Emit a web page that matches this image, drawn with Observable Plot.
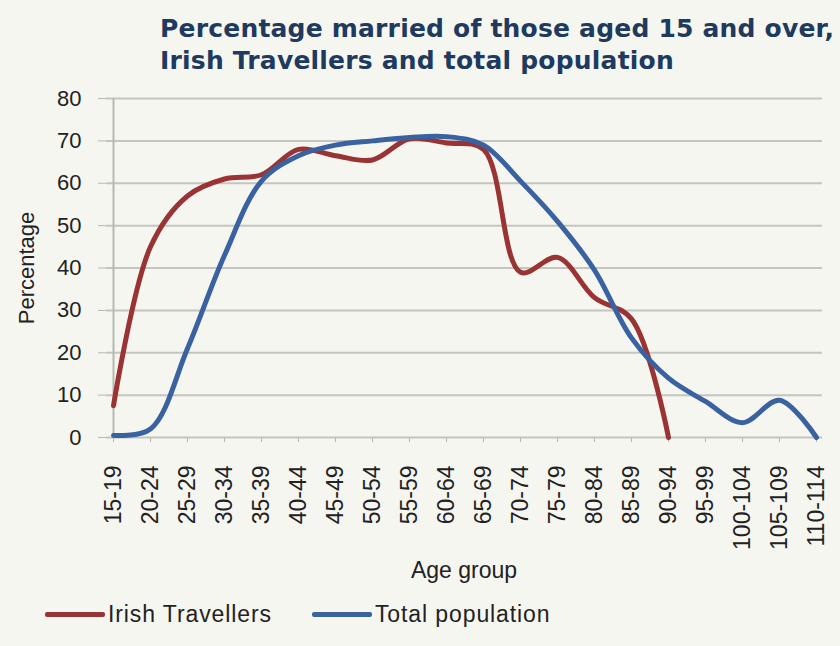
<!DOCTYPE html>
<html>
<head>
<meta charset="utf-8">
<script src="https://cdn.jsdelivr.net/npm/d3@7"></script>
<script src="https://cdn.jsdelivr.net/npm/@observablehq/plot@0.6"></script>
<style>
  html, body { margin: 0; padding: 0; background: #f6f6f1; }
  #wrap { position: relative; width: 840px; height: 646px; background: #f6f6f1; overflow: hidden; }
  #title { position: absolute; left: 160px; top: 13px; font-family: "DejaVu Sans", sans-serif; font-weight: 700; font-size: 25px; line-height: 32px; color: #1f3a5f; white-space: nowrap; letter-spacing: 0.2px; }
  #chart { position: absolute; left: 0; top: 80px; }
  #legend { position: absolute; left: 45px; top: 601px; font-family: "Liberation Sans", Arial, sans-serif; font-size: 23px; letter-spacing: 0.9px; color: #222; display: flex; align-items: center; }
  .item { display: flex; align-items: center; margin-right: 40px; }
  .sw { width: 60px; height: 5px; margin-right: 3px; border-radius: 2px; }
</style>
</head>
<body>
<div id="wrap">
  <div id="title">Percentage married of those aged 15 and over,<br>Irish Travellers and total population</div>
  <div id="chart"></div>
  <div id="legend"></div>
</div>
<script>
const ageGroups = ["15-19","20-24","25-29","30-34","35-39","40-44","45-49","50-54","55-59","60-64","65-69","70-74","75-79","80-84","85-89","90-94","95-99","100-104","105-109","110-114"];
const travellers = [7.5, 45, 57, 61, 62, 68, 66.5, 65.5, 70.5, 69.5, 68, 39, 42.5, 33, 28, 0];
const totalPop = [0.5, 2, 21, 43, 60.5, 66.5, 69, 70, 70.8, 71, 69, 60.5, 51, 39.5, 23.5, 14, 8.5, 3.5, 8.8, 0];
const yTicks = [0, 10, 20, 30, 40, 50, 60, 70, 80];
const seriesNames = ["Irish Travellers", "Total population"];
const seriesColors = ["#9a3333", "#3b62a0"];

const rows = [];
travellers.forEach((v, i) => rows.push({series: seriesNames[0], age: ageGroups[i], value: v}));
totalPop.forEach((v, i) => rows.push({series: seriesNames[1], age: ageGroups[i], value: v}));

const chart = Plot.plot({
  width: 840,
  height: 510,
  marginTop: 18,
  marginLeft: 106,
  marginRight: 18,
  marginBottom: 153,
  style: {fontFamily: "'Liberation Sans', Arial, sans-serif", fontSize: "22px", background: "transparent", color: "#222", overflow: "visible"},
  x: {type: "point", domain: ageGroups, padding: 0},
  y: {domain: [0, 80]},
  color: {domain: seriesNames, range: seriesColors},
  marks: [
    Plot.ruleY(yTicks, {stroke: "#c4c4c0", strokeWidth: 2}),
    Plot.ruleX([ageGroups[0]], {stroke: "#b8b8b4", strokeWidth: 2}),
    Plot.axisY({ticks: yTicks, tickSize: 8, tickPadding: 17, stroke: "#b8b8b4", fill: "#222", fontSize: 22, label: "Percentage", labelAnchor: "center", labelOffset: 88, labelArrow: "none"}),
    Plot.axisX({tickSize: 5, tickPadding: 23, tickRotate: -90, stroke: "#b8b8b4", fill: "#222", fontSize: 23, label: null}),
    Plot.line(rows, {x: "age", y: "value", z: "series", stroke: "series", strokeWidth: 5, curve: "catmull-rom", strokeLinecap: "round", strokeLinejoin: "round"})
  ]
});
document.getElementById("chart").appendChild(chart);

// x-axis title below the rotated labels
d3.select(chart).append("text")
  .attr("x", (106 + 822) / 2)
  .attr("y", 498)
  .attr("text-anchor", "middle")
  .attr("font-size", 23)
  .attr("fill", "#222")
  .text("Age group");

const legend = document.getElementById("legend");
seriesNames.forEach((name, i) => {
  const it = document.createElement("div");
  it.className = "item";
  const sw = document.createElement("div");
  sw.className = "sw";
  sw.style.background = seriesColors[i];
  const t = document.createElement("span");
  t.textContent = name;
  it.appendChild(sw); it.appendChild(t);
  legend.appendChild(it);
});
</script>
</body>
</html>
